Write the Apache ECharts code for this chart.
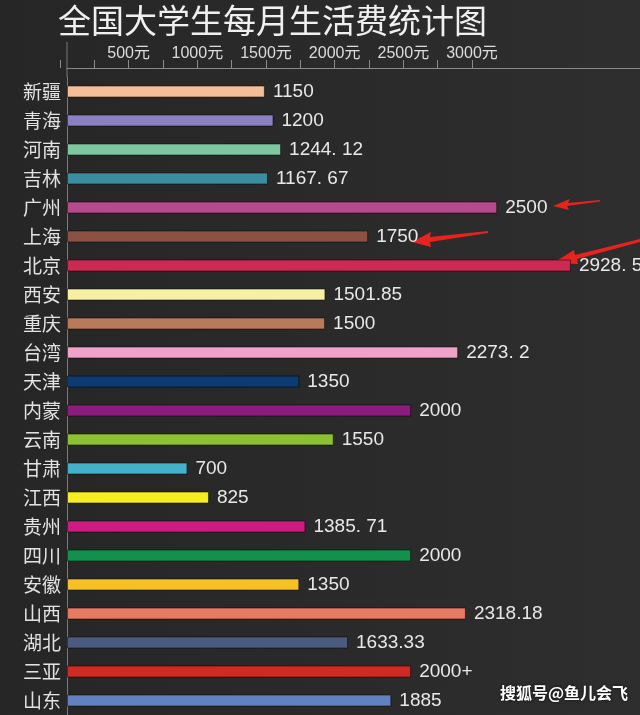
<!DOCTYPE html>
<html>
<head>
<meta charset="utf-8">
<script src="https://cdn.jsdelivr.net/npm/echarts@6/dist/echarts.min.js"></script>
<style>
  html, body { margin: 0; padding: 0; background: #282828; }
  #chart { width: 640px; height: 715px; }
</style>
</head>
<body>
<div id="chart"></div>
<script>
// 数据
const provinces = ['新疆', '青海', '河南', '吉林', '广州', '上海', '北京', '西安', '重庆', '台湾', '天津',
  '内蒙', '云南', '甘肃', '江西', '贵州', '四川', '安徽', '山西', '湖北', '三亚', '山东'];
const costs = [1150, 1200, 1244.12, 1167.67, 2500, 1750, 2928.5, 1501.85, 1500, 2273.2, 1350,
  2000, 1550, 700, 825, 1385.71, 2000, 1350, 2318.18, 1633.33, 2000, 1885];
const costLabels = ['1150', '1200', '1244. 12', '1167. 67', '2500', '1750', '2928. 5', '1501.85', '1500', '2273. 2', '1350',
  '2000', '1550', '700', '825', '1385. 71', '2000', '1350', '2318.18', '1633.33', '2000+', '1885'];
const barColors = ['#f4bf98', '#8a80c2', '#7fc7a1', '#3b8e9f', '#b64b8c', '#8b5243', '#cb2a52', '#f7efa2', '#b77b5c', '#f0a2c9', '#0b3b70',
  '#8c1c7d', '#8bc132', '#42b1c9', '#f6ee22', '#cf1a82', '#12904c', '#f7c124', '#e77a62', '#4b5b80', '#cf2b22', '#6181c0'];
const tickValues = [500, 1000, 1500, 2000, 2500, 3000];
const tickUnit = '元';

let myChart = echarts.init(document.getElementById('chart'));
let cjk = "'Noto Sans CJK SC', sans-serif";

myChart.setOption({
  backgroundColor: {
    type: 'linear', x: 0, y: 0, x2: 1, y2: 0,
    colorStops: [{offset: 0, color: '#262626'}, {offset: 1, color: '#2e2e2e'}]
  },
  animation: false,
  title: {
    text: '全国大学生每月生活费统计图',
    left: 53,
    top: -1,
    textStyle: {color: '#f0f0f0', fontSize: 33, fontWeight: 'normal', fontFamily: cjk}
  },
  grid: [
    {left: 67, right: 0, top: 77, height: 642, containLabel: false},
    {left: 60, width: 412, top: 77, height: 642, containLabel: false}
  ],
  xAxis: [
    {
      type: 'value', gridIndex: 0, position: 'top', offset: 9,
      min: 0, max: 3330,
      axisLine: {show: true, lineStyle: {color: '#8a8a8a', width: 1}},
      axisTick: {show: false}, axisLabel: {show: false}, splitLine: {show: false}
    },
    {
      type: 'value', gridIndex: 1, position: 'top', offset: 9,
      min: 0, max: tickValues[tickValues.length - 1], interval: 500,
      axisLine: {show: false},
      axisTick: {show: true, length: 8, lineStyle: {color: '#8a8a8a'}},
      minorTick: {show: true, splitNumber: 2, length: 8, lineStyle: {color: '#8a8a8a'}},
      splitLine: {show: false},
      axisLabel: {
        color: '#dcdcdc', fontSize: 16, margin: 6,
        fontFamily: "'Liberation Sans', Arial, " + cjk,
        formatter: function (v) { return tickValues.indexOf(v) >= 0 ? v + tickUnit : ''; }
      }
    }
  ],
  yAxis: [
    {
      type: 'category', gridIndex: 0, inverse: true, data: provinces,
      axisLine: {show: true, lineStyle: {color: '#7a7a7a'}},
      axisTick: {show: false},
      axisLabel: {color: '#e2e2e2', fontSize: 19, margin: 6, fontFamily: cjk}
    },
    {
      type: 'category', gridIndex: 1, inverse: true, data: provinces, show: false
    }
  ],
  series: [{
    type: 'bar',
    xAxisIndex: 0, yAxisIndex: 0,
    barWidth: 12,
    data: costs.map((v, i) => ({value: v, itemStyle: {color: barColors[i]}})),
    itemStyle: {borderColor: 'rgba(0,0,0,0.5)', borderWidth: 1},
    label: {
      show: true, position: 'right', distance: 8,
      color: '#e8e8e8', fontSize: 19,
      fontFamily: "'Liberation Sans', Arial, sans-serif",
      formatter: p => costLabels[p.dataIndex]
    }
  }],
  graphic: [
    // 纵轴上延
    {type: 'line', shape: {x1: 67, y1: 42, x2: 67, y2: 77}, style: {stroke: '#7a7a7a', lineWidth: 1}},
    // 红色箭头标注
    {type: 'polygon', shape: {points: [[600, 200], [568, 203], [570, 199], [553, 206], [569, 210], [567, 206], [600, 201.5]]}, style: {fill: '#e8231e'}},
    {type: 'polygon', shape: {points: [[488, 231], [430, 237], [431, 232], [412, 242], [431, 247], [430, 242], [488, 233]]}, style: {fill: '#e8231e'}},
    {type: 'polygon', shape: {points: [[640, 239], [575, 255], [574, 250], [553, 263], [578, 264], [577, 259], [640, 242]]}, style: {fill: '#e8231e'}},
    {
      type: 'text', left: 500, top: 685,
      style: {text: '搜狐号@鱼儿会飞', fill: '#ffffff', fontSize: 16, fontWeight: 'bold', fontFamily: cjk,
        textShadowColor: 'rgba(0,0,0,0.7)', textShadowBlur: 3}
    }
  ]
});
</script>
</body>
</html>
